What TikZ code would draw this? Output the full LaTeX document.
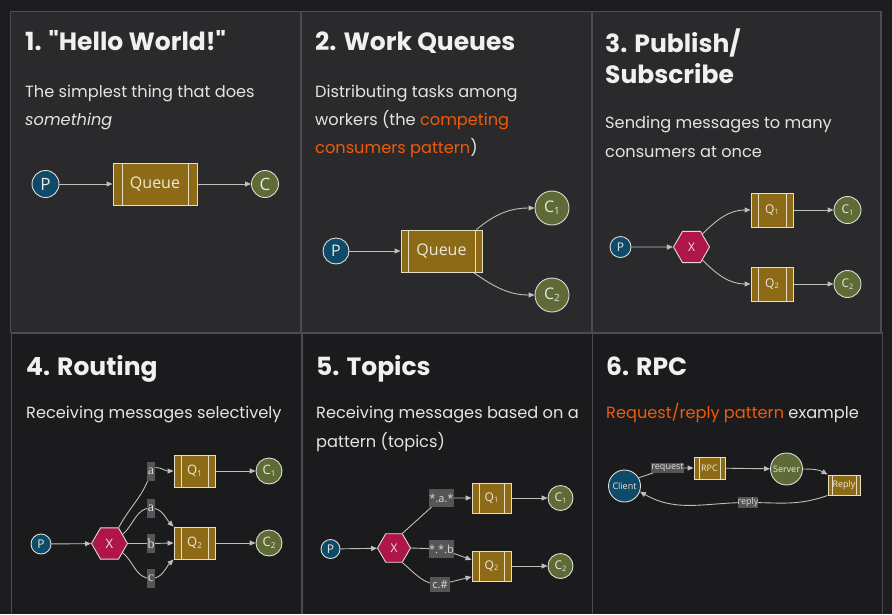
\documentclass[tikz,border=0pt]{standalone}
\usepackage{fontspec}
\setmainfont{Poppins}
\newfontfamily\headfont{Poppins}
\newfontfamily\dfont{Open Sans}
\newfontfamily\lserif{Liberation Serif}
\usetikzlibrary{arrows.meta,shapes.geometric,calc}

\definecolor{outerbg}{HTML}{1D1D1F}
\definecolor{topbg}{HTML}{2A2A2D}
\definecolor{botbg}{HTML}{1B1B1D}
\definecolor{framecol}{HTML}{4A4C51}
\definecolor{titlecol}{HTML}{F0F0F0}
\definecolor{bodycol}{HTML}{E4E4E4}
\definecolor{accent}{HTML}{F05A0A}
\definecolor{edgecol}{HTML}{BEBEBE}
\definecolor{ringcol}{HTML}{DCDCD4}
\definecolor{pblue}{HTML}{0E4A6A}
\definecolor{colive}{HTML}{5E6B36}
\definecolor{qgold}{HTML}{8C6A16}
\definecolor{qline}{HTML}{E6DDC4}
\definecolor{xred}{HTML}{B0154A}
\definecolor{nodetxt}{HTML}{ECE8DC}
\definecolor{taggray}{HTML}{555557}
\definecolor{tagtxt}{HTML}{DADADA}

\newcommand\lowdig[1]{\raisebox{-0.12em}{\scalebox{0.62}{#1}}}
\newcommand\fs[1]{\fontsize{#1}{#1}\selectfont}

\pgfdeclarelayer{bg}
\pgfdeclarelayer{edges}
\pgfsetlayers{bg,edges,main}

\tikzset{
  edge/.style={draw=edgecol, line width=0.9pt, -{Triangle[length=6pt,width=5pt]}},
  prod/.style={circle, fill=pblue, draw=ringcol, line width=0.9pt, inner sep=0pt, text=nodetxt},
  cons/.style={circle, fill=colive, draw=ringcol, line width=0.9pt, inner sep=0pt, text=nodetxt},
  queue/.style={rectangle, fill=qgold, draw=qline, line width=0.9pt, inner sep=0pt, text=nodetxt,
    path picture={\draw[qline, line width=0.9pt]
      ([xshift=#1]path picture bounding box.north west) -- ([xshift=#1]path picture bounding box.south west)
      ([xshift=-#1]path picture bounding box.north east) -- ([xshift=-#1]path picture bounding box.south east);}},
  queue/.default=7pt,
  exch/.style={regular polygon, regular polygon sides=6, fill=xred, draw=ringcol, line width=0.9pt,
    inner sep=0pt, text=nodetxt},
  tag/.style={rectangle, fill=taggray, inner sep=0pt, text=tagtxt},
  title/.style={anchor=base west, inner sep=0pt, text=titlecol, font=\headfont\bfseries\fs{25}},
  body/.style={anchor=base west, inner sep=0pt, text=bodycol, font=\fs{16.2}},
}

\begin{document}
\begin{tikzpicture}[x=1pt, y=1pt]
\useasboundingbox (0,0) rectangle (892,-614);

% panel grid
\begin{pgfonlayer}{bg}
  \fill[outerbg] (0,0) rectangle (892,-614);
  \fill[topbg] (10.5,-11.5) rectangle (881,-333);
  \fill[botbg] (11.5,-333) rectangle (882,-614);
  \draw[framecol, line width=1.4pt] (10.5,-333) -- (10.5,-11.5) -- (881,-11.5) -- (881,-333);
  \draw[framecol, line width=1.4pt] (301,-11.5) -- (301,-333);
  \draw[framecol, line width=1.4pt] (592,-11.5) -- (592,-333);
  \draw[framecol, line width=1.4pt] (10.5,-333) -- (882.5,-333);
  \draw[framecol, line width=1.4pt] (11.5,-333) -- (11.5,-614);
  \draw[framecol, line width=1.4pt] (302,-333) -- (302,-614);
  \draw[framecol, line width=1.4pt] (592.5,-333) -- (592.5,-614);
  \draw[framecol, line width=1.4pt] (882.5,-333) -- (882.5,-614);
\end{pgfonlayer}

% ---------- 1. Hello World ----------
\node[title] (t1) at (25,-50) {1. "Hello World!"};
\node[body] (b1a) at (25,-97) {The simplest thing that does};
\node[body, font=\fs{16.2}\itshape] (b1b) at (25,-125) {something};
\node[prod, minimum size=27pt, font=\dfont\fs{17}] (p1) at (45.5,-184) {P};
\node[queue=9pt, minimum width=84pt, minimum height=42pt, font=\dfont\fs{16}] (q1) at (155,-184) {Queue};
\node[cons, minimum size=27pt, font=\dfont\fs{17}] (c1) at (265,-184) {C};

% ---------- 2. Work Queues ----------
\node[title] (t2) at (315,-50) {2. Work Queues};
\node[body] (b2a) at (315,-97) {Distributing tasks among};
\node[body] (b2b) at (315,-125) {workers (the \textcolor{accent}{competing}};
\node[body] (b2c) at (315,-153) {\textcolor{accent}{consumers pattern})};
\node[prod, minimum size=26pt, font=\dfont\fs{16}] (p2) at (336,-251) {P};
\node[queue=7pt, minimum width=81pt, minimum height=42pt, font=\dfont\fs{16}] (q2) at (441.5,-251) {Queue};
\node[cons, minimum size=34pt, font=\dfont\fs{16}] (c21) at (552,-208) {C\lowdig{1}};
\node[cons, minimum size=34pt, font=\dfont\fs{16}] (c22) at (552,-295) {C\lowdig{2}};

% ---------- 3. Publish/Subscribe ----------
\node[title] (t3a) at (605,-52) {3. Publish/};
\node[title] (t3b) at (605,-83) {Subscribe};
\node[body] (b3a) at (605,-128) {Sending messages to many};
\node[body] (b3b) at (605,-157) {consumers at once};
\node[prod, minimum size=21pt, font=\dfont\fs{12}] (p3) at (620.5,-247) {P};
\node[exch, minimum size=36pt, font=\dfont\fs{12}] (x3) at (691.5,-247) {X};
\node[queue=7pt, minimum width=42pt, minimum height=34pt, font=\dfont\fs{12}] (q31) at (772,-210) {Q\lowdig{1}};
\node[queue=7pt, minimum width=42pt, minimum height=34pt, font=\dfont\fs{12}] (q32) at (772,-284) {Q\lowdig{2}};
\node[cons, minimum size=27pt, font=\dfont\fs{12}] (c31) at (847.5,-210) {C\lowdig{1}};
\node[cons, minimum size=27pt, font=\dfont\fs{12}] (c32) at (847.5,-284) {C\lowdig{2}};

% ---------- 4. Routing ----------
\node[title] (t4) at (26,-375) {4. Routing};
\node[body] (b4) at (26,-418) {Receiving messages selectively};
\node[prod, minimum size=20pt, font=\dfont\fs{12}] (p4) at (41,-544) {P};
\node[exch, minimum size=36pt, font=\dfont\fs{13}] (x4) at (109.5,-543.5) {X};
\node[queue=7pt, minimum width=41pt, minimum height=32pt, font=\dfont\fs{13}] (q41) at (194.5,-471) {Q\lowdig{1}};
\node[queue=7pt, minimum width=41pt, minimum height=32pt, font=\dfont\fs{13}] (q42) at (194.5,-543) {Q\lowdig{2}};
\node[cons, minimum size=26pt, font=\dfont\fs{13}] (c41) at (269,-471) {C\lowdig{1}};
\node[cons, minimum size=26pt, font=\dfont\fs{13}] (c42) at (269,-543) {C\lowdig{2}};
\node[tag, minimum width=8pt, minimum height=19pt, font=\lserif\fs{14}] (la1) at (151,-471) {a};
\node[tag, minimum width=8pt, minimum height=19pt, font=\lserif\fs{14}] (la2) at (151,-508) {a};
\node[tag, minimum width=8pt, minimum height=19pt, font=\lserif\fs{14}] (lb) at (151,-543.5) {b};
\node[tag, minimum width=8pt, minimum height=19pt, font=\lserif\fs{14}] (lc) at (151,-578.5) {c};

% ---------- 5. Topics ----------
\node[title] (t5) at (316,-375) {5. Topics};
\node[body] (b5a) at (316,-418) {Receiving messages based on a};
\node[body] (b5b) at (316,-447) {pattern (topics)};
\node[prod, minimum size=19pt, font=\dfont\fs{12}] (p5) at (330.5,-549) {P};
\node[exch, minimum size=33pt, font=\dfont\fs{12}] (x5) at (394,-548) {X};
\node[queue=7pt, minimum width=39pt, minimum height=30pt, font=\dfont\fs{12}] (q51) at (491.5,-498) {Q\lowdig{1}};
\node[queue=7pt, minimum width=39pt, minimum height=30pt, font=\dfont\fs{12}] (q52) at (491.5,-566) {Q\lowdig{2}};
\node[cons, minimum size=25pt, font=\dfont\fs{12}] (c51) at (560.5,-498) {C\lowdig{1}};
\node[cons, minimum size=25pt, font=\dfont\fs{12}] (c52) at (560.5,-566) {C\lowdig{2}};
\node[tag, minimum width=25pt, minimum height=18pt, font=\dfont\fs{11}] (lta) at (441.5,-498) {*.a.*};
\node[tag, minimum width=25pt, minimum height=18pt, font=\dfont\fs{11}] (ltb) at (441.5,-549) {*.*.b};
\node[tag, minimum width=20pt, minimum height=15pt, font=\dfont\fs{11}] (ltc) at (440,-584.5) {c.\#};

% ---------- 6. RPC ----------
\node[title] (t6) at (606,-375) {6. RPC};
\node[body] (b6) at (606,-418) {\textcolor{accent}{Request/reply pattern} example};
\node[prod, minimum size=32pt, font=\dfont\fs{9}] (client) at (624.5,-486) {Client};
\node[tag, minimum width=29pt, minimum height=10pt, font=\dfont\fs{9}] (req) at (667.5,-468) {request};
\node[queue=5pt, minimum width=31pt, minimum height=22pt, font=\dfont\fs{9}] (rpc) at (709.5,-468) {RPC};
\node[cons, minimum size=32pt, font=\dfont\fs{9}] (server) at (786.5,-469) {Server};
\node[queue=4pt, minimum width=32pt, minimum height=20pt, font=\dfont\fs{9}] (reply) at (844,-485) {Reply};
\node[tag, minimum width=20pt, minimum height=11pt, font=\dfont\fs{9}] (rep) at (748,-502.5) {reply};

% connectors
\begin{pgfonlayer}{edges}
  % 1
  \draw[edge] (p1) -- (q1);
  \draw[edge] (q1) -- (c1);
  % 2
  \draw[edge] (p2) -- (q2);
  \draw[edge] ([xshift=-6pt]q2.north east) to[out=40,in=180] (c21.west);
  \draw[edge] ([xshift=-9pt]q2.south east) to[out=-35,in=180] (c22.west);
  % 3
  \draw[edge] (p3) -- (x3);
  \draw[edge] (x3.50) to[out=45,in=180] (q31.west);
  \draw[edge] (x3.-50) to[out=-45,in=180] (q32.west);
  \draw[edge] (q31) -- (c31);
  \draw[edge] (q32) -- (c32);
  % 4
  \draw[edge] (p4) -- (x4);
  \draw[edge] (x4.60) to[out=62,in=-105] (la1.center) to[out=60,in=180] (q41.west);
  \draw[edge] (x4.35) to[out=40,in=180] (la2.center) to[out=0,in=135] (q42.north west);
  \draw[edge] (x4.east) -- (lb.center) -- (q42.west);
  \draw[edge] (x4.-35) to[out=-40,in=180] (lc.center) to[out=0,in=-135] (q42.south west);
  \draw[edge] (q41) -- (c41);
  \draw[edge] (q42) -- (c42);
  % 5
  \draw[edge] (p5) -- (x5);
  \draw[edge] (x5.60) -- (lta.center) -- (q51.west);
  \draw[edge] (x5.east) -- (ltb.center) -- ($(q52.north west)!0.3!(q52.south west)$);
  \draw[edge] (x5.-60) to[out=-40,in=180] (ltc.center) -- ($(q52.north west)!0.85!(q52.south west)$);
  \draw[edge] (q51) -- (c51);
  \draw[edge] (q52) -- (c52);
  % 6
  \draw[edge] (client.30) -- (req.center) -- (rpc.west);
  \draw[edge] (rpc) -- (server);
  \draw[edge] (server.east) to[out=0,in=150] (reply.north west);
  \draw[edge] (reply.south west) to[out=200,in=0] (rep.center) to[out=180,in=-30] (client.-20);
\end{pgfonlayer}
\end{tikzpicture}
\end{document}
